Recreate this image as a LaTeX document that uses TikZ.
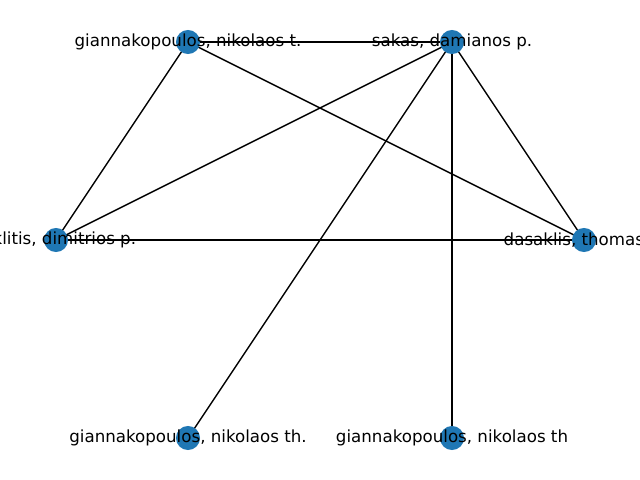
\documentclass[tikz,border=0pt]{standalone}
\usepackage{fontspec}
\setmainfont{DejaVu Sans}
\definecolor{nodeblue}{HTML}{1F77B4}
\begin{document}
\begin{tikzpicture}[x=0.72pt,y=-0.72pt,
  vert/.style={circle,fill=nodeblue,draw=none,minimum size=17.3pt,inner sep=0pt},
  lbl/.style={font=\fontsize{12pt}{14pt}\selectfont,inner sep=0pt,text=black},
  edge/.style={draw=black,line width=1pt}]
\useasboundingbox (0,0) rectangle (640,480);
\clip (0,0) rectangle (640,480);
\coordinate (A) at (188,42);
\coordinate (B) at (452,42);
\coordinate (C) at (56,240);
\coordinate (D) at (584,240);
\coordinate (E) at (188,438);
\coordinate (F) at (452,438);
\draw[edge] (A) -- (B);
\draw[edge] (A) -- (C);
\draw[edge] (A) -- (D);
\draw[edge] (B) -- (C);
\draw[edge] (B) -- (D);
\draw[edge] (B) -- (E);
\draw[edge] (B) -- (F);
\draw[edge] (C) -- (D);
\foreach \n in {A,B,C,D,E,F} \node[vert] (v\n) at (\n) {};
\node[lbl] (lA) at (A) {giannakopoulos, nikolaos t.};
\node[lbl] (lB) at (B) {sakas, damianos p.};
\node[lbl] (lC) at (C) {reklitis, dimitrios p.};
\node[lbl] (lD) at (D) {dasaklis, thomas k.};
\node[lbl] (lE) at (E) {giannakopoulos, nikolaos th.};
\node[lbl] (lF) at (F) {giannakopoulos, nikolaos th};
\end{tikzpicture}
\end{document}
